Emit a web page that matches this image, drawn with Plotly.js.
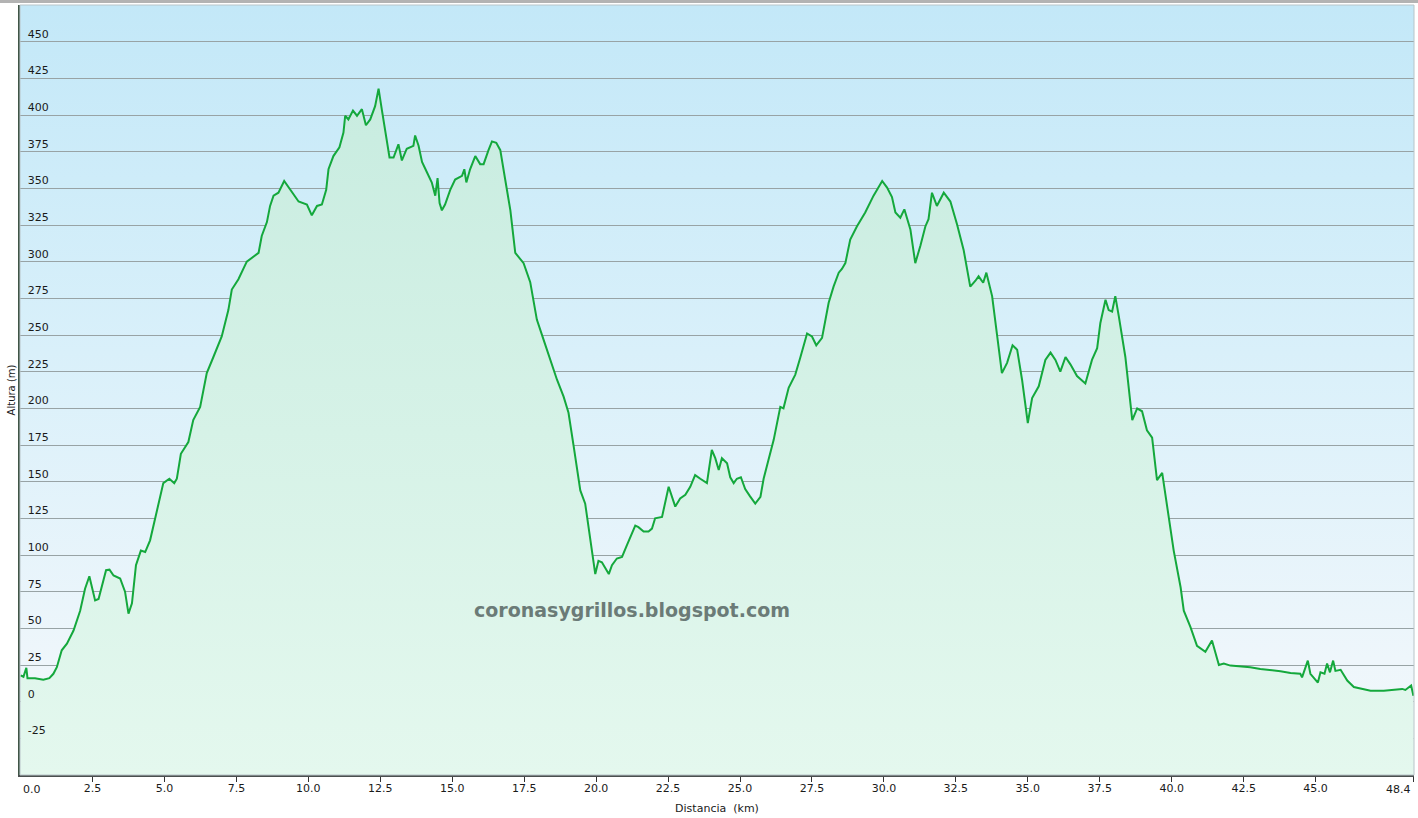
<!DOCTYPE html>
<html>
<head>
<meta charset="utf-8">
<script src="https://cdn.plot.ly/plotly-3.0.1.min.js"></script>
<style>
  html, body { margin: 0; padding: 0; background: #ffffff; }
  #wrap { position: relative; width: 1418px; height: 818px; }
  #chart { position: absolute; left: 0; top: 0; width: 1418px; height: 818px; }
  #topbar { position: absolute; left: 0; top: 0; width: 1418px; height: 3px; background: #b3b3b3; z-index: 5; }
</style>
</head>
<body>
<div id="wrap">
  <div id="chart"></div>
  <div id="topbar"></div>
</div>
<script>
// ---- data ----
const distanceKm = [
  0.00, 0.10, 0.20, 0.24, 0.33, 0.50, 0.79, 1.00, 1.14, 1.26, 1.43, 1.61, 1.84, 2.07, 2.24, 2.30, 2.39, 2.59, 2.71, 2.97,
  3.09, 3.23, 3.46, 3.63, 3.75, 3.87, 4.01, 4.18, 4.33, 4.50, 4.68, 4.79, 4.96, 5.17, 5.34, 5.43, 5.57, 5.83, 6.00, 6.24,
  6.47, 6.70, 6.99, 7.22, 7.34, 7.57, 7.86, 8.27, 8.38, 8.56, 8.67, 8.79, 8.96, 9.16, 9.37, 9.66, 9.95, 10.12, 10.30, 10.47,
  10.62, 10.70, 10.87, 11.08, 11.22, 11.28, 11.39, 11.55, 11.69, 11.86, 12.00, 12.15, 12.32, 12.44, 12.55, 12.67, 12.82, 12.96, 13.13, 13.25,
  13.42, 13.65, 13.71, 13.83, 13.95, 14.12, 14.29, 14.41, 14.49, 14.56, 14.64, 14.75, 14.93, 15.10, 15.34, 15.42, 15.49, 15.62, 15.80, 15.97,
  16.09, 16.26, 16.38, 16.53, 16.67, 16.84, 17.02, 17.19, 17.48, 17.71, 17.94, 18.17, 18.40, 18.64, 18.87, 19.04, 19.22, 19.45, 19.62, 19.80,
  19.97, 20.08, 20.20, 20.44, 20.55, 20.72, 20.90, 21.07, 21.36, 21.47, 21.65, 21.82, 21.94, 22.05, 22.29, 22.52, 22.75, 22.92, 23.10, 23.27,
  23.44, 23.62, 23.85, 24.02, 24.14, 24.26, 24.37, 24.55, 24.66, 24.78, 24.89, 25.03, 25.18, 25.35, 25.53, 25.71, 25.82, 25.99, 26.17, 26.40,
  26.51, 26.69, 26.92, 27.10, 27.33, 27.50, 27.65, 27.85, 28.08, 28.25, 28.43, 28.54, 28.66, 28.83, 29.06, 29.35, 29.64, 29.94, 30.11, 30.28,
  30.40, 30.57, 30.71, 30.92, 31.09, 31.27, 31.44, 31.55, 31.67, 31.84, 32.08, 32.31, 32.54, 32.77, 33.00, 33.18, 33.29, 33.45, 33.56, 33.76,
  33.93, 34.10, 34.28, 34.47, 34.63, 34.80, 35.00, 35.15, 35.38, 35.61, 35.79, 35.96, 36.13, 36.31, 36.48, 36.71, 37.00, 37.23, 37.41, 37.52,
  37.70, 37.81, 37.93, 38.04, 38.16, 38.39, 38.63, 38.80, 38.97, 39.14, 39.32, 39.49, 39.67, 39.78, 39.90, 40.07, 40.31, 40.42, 40.65, 40.88,
  41.17, 41.40, 41.64, 41.81, 42.04, 42.50, 42.73, 43.08, 43.43, 43.78, 44.13, 44.47, 44.53, 44.73, 44.82, 45.08, 45.17, 45.31, 45.40, 45.50,
  45.61, 45.69, 45.87, 46.10, 46.33, 46.68, 46.91, 47.37, 47.72, 48.01, 48.12, 48.32, 48.40
];
const altitudeM = [
  18, 17, 23, 16, 16, 16, 15, 16, 19, 23.5, 35, 39.5, 48.5, 62, 77, 81, 85.5, 69, 70, 89.6,
  90, 86, 84, 75, 60, 67, 93, 103, 102, 110, 126, 135, 149, 152, 149, 152, 169, 177, 192, 201,
  224, 235, 249, 267, 281, 288, 300, 306, 317.5, 327, 338, 345, 347, 355, 349, 341, 339, 331.6, 338, 339,
  349, 363, 372, 378, 388, 399.5, 397, 403, 399.5, 404, 393, 397, 406, 418, 404, 388, 371, 371, 380, 369,
  377, 379, 386, 379, 368, 361, 354, 345, 357, 340, 335, 339, 349, 356, 358.5, 363, 354, 363, 372, 366.5,
  366.5, 376, 382, 381, 376, 356, 335, 306, 299, 286, 260.5, 247, 233, 219.5, 208, 197, 174, 144, 135, 112,
  87, 96, 95, 87, 93, 97.6, 98.7, 106.7, 120, 119, 116, 116, 118, 125, 126, 146.5, 133, 138.6, 141, 146.5,
  154.5, 152, 149, 171.6, 166, 158, 166, 162.5, 153, 149, 152, 153, 145, 140, 135, 139.7, 152, 165, 178.5, 201,
  200, 214, 223, 235, 251, 249, 243, 248, 272, 283, 292.5, 295, 299, 315, 324, 333.5, 345, 355, 350.5, 344,
  333.5, 330, 335.7, 322, 299, 311, 324, 329, 347, 338, 347, 341, 325.5, 308, 283, 287, 290, 285.6, 292.5, 276.5,
  251, 224, 231, 243, 240, 219.5, 190, 207, 215, 233, 238, 233, 225, 235, 230, 222, 217, 233, 241, 258,
  274, 267, 266, 276.5, 263, 235, 192, 200, 198, 185, 180, 151, 156, 142, 126, 103, 78, 62, 51, 38,
  34, 41.7, 25, 26, 24.6, 24, 23.5, 22.3, 21.7, 20.7, 19.6, 19, 16.6, 28, 19, 13, 20, 19, 26, 20,
  28, 21, 21.7, 14.4, 10, 8.2, 7.5, 7.5, 8.2, 8.7, 8, 11, 4
];
const xTickVals = [0, 2.5, 5, 7.5, 10, 12.5, 15, 17.5, 20, 22.5, 25, 27.5, 30, 32.5, 35, 37.5, 40, 42.5, 45, 48.4];
const xTickText = ["0.0", "2.5", "5.0", "7.5", "10.0", "12.5", "15.0", "17.5", "20.0", "22.5", "25.0", "27.5", "30.0", "32.5", "35.0", "37.5", "40.0", "42.5", "45.0", "48.4"];
const yTickVals = [-25, 0, 25, 50, 75, 100, 125, 150, 175, 200, 225, 250, 275, 300, 325, 350, 375, 400, 425, 450];
const yTickText = ["-25", "0", "25", "50", "75", "100", "125", "150", "175", "200", "225", "250", "275", "300", "325", "350", "375", "400", "425", "450"];
const xMin = -0.02, xMax = 48.42, yMin = -50, yMax = 475;
const watermarkText = "coronasygrillos.blogspot.com";

// end labels are anchored to the edges (left-/right-aligned) like the reference
const lastIdx = xTickVals.length - 1;
const axisTickText = xTickText.map((t, i) => (i === 0 || i === lastIdx) ? '' : t);

// ---- background gradient as an inline SVG image ----
const bgSvg = '<svg xmlns="http://www.w3.org/2000/svg" width="100" height="100" preserveAspectRatio="none">' +
  '<defs><linearGradient id="g" x1="0" y1="0" x2="0" y2="1">' +
  '<stop offset="0" stop-color="#c3e8f8"/>' +
  '<stop offset="0.45" stop-color="#d9f0fa"/>' +
  '<stop offset="0.85" stop-color="#eef6fb"/>' +
  '<stop offset="1" stop-color="#f0f8fa"/>' +
  '</linearGradient></defs><rect width="100" height="100" fill="url(#g)"/></svg>';
const bgUri = 'data:image/svg+xml;base64,' + btoa(bgSvg);

const baseline = {
  x: [xMin, xMax], y: [yMin, yMin],
  mode: 'lines', line: { width: 0, color: 'rgba(0,0,0,0)' },
  hoverinfo: 'skip', showlegend: false
};
const profile = {
  x: distanceKm, y: altitudeM,
  mode: 'lines', fill: 'tonexty',
  line: { color: '#14a83c', width: 2 },
  fillcolor: 'rgba(205,238,225,0.8)',
  fillgradient: { type: 'vertical', colorscale: [[0, 'rgba(228,248,238,1)'], [1, 'rgba(200,236,224,1)']] },
  showlegend: false
};

const tickFont = { family: 'DejaVu Sans, Verdana, sans-serif', size: 11, color: '#1a1a1a' };

const layout = {
  width: 1418, height: 818,
  margin: { l: 20, r: 4, t: 5, b: 43, pad: 0 },
  paper_bgcolor: 'rgba(0,0,0,0)',
  plot_bgcolor: 'rgba(0,0,0,0)',
  font: { family: 'DejaVu Sans, Verdana, sans-serif', size: 11, color: '#1a1a1a' },
  showlegend: false,
  images: [{
    source: bgUri, xref: 'paper', yref: 'paper', x: 0, y: 1, sizex: 1, sizey: 1,
    sizing: 'stretch', xanchor: 'left', yanchor: 'top', layer: 'below'
  }],
  xaxis: {
    range: [xMin, xMax], tickmode: 'array', tickvals: xTickVals, ticktext: axisTickText,
    ticks: 'outside', ticklen: 5, tickwidth: 1, tickcolor: '#333',
    ticklabelstandoff: -3,
    showgrid: false, zeroline: false,
    showline: true, linecolor: '#4a4f4f', linewidth: 2,
    tickfont: tickFont,
    title: { text: 'Distancia \u00a0(km)', font: { size: 11, color: '#1a1a1a' }, standoff: 10 },
    automargin: false, fixedrange: true
  },
  yaxis: {
    range: [yMin, yMax], tickmode: 'array', tickvals: yTickVals, ticktext: yTickText,
    ticks: '', ticklabelposition: 'inside top', ticklabelstandoff: 6,
    showgrid: true, gridcolor: '#98a3a5', gridwidth: 1,
    zeroline: false,
    showline: true, linecolor: '#3f5546', linewidth: 2,
    tickfont: tickFont,
    title: { text: 'Altura (m)', font: { size: 10, color: '#1a1a1a' }, standoff: 10 },
    automargin: false, fixedrange: true
  },
  shapes: [{
    type: 'rect', xref: 'paper', yref: 'paper', x0: 0, x1: 1, y0: 0, y1: 1,
    line: { color: '#b8c4c8', width: 1 }, fillcolor: 'rgba(0,0,0,0)', layer: 'above'
  }],
  annotations: [
    {
      text: watermarkText, xref: 'paper', yref: 'paper', x: 0.439, y: 0.214,
      showarrow: false, xanchor: 'center', yanchor: 'middle',
      font: { family: 'DejaVu Sans, Verdana, sans-serif', size: 19, color: '#6b7b77', weight: 'bold' }
    },
    {
      text: xTickText[0], xref: 'x', yref: 'paper', x: xTickVals[0], y: 0,
      showarrow: false, xanchor: 'left', yanchor: 'top', yshift: -6, font: tickFont
    },
    {
      text: xTickText[lastIdx], xref: 'x', yref: 'paper', x: xTickVals[lastIdx], y: 0,
      showarrow: false, xanchor: 'right', yanchor: 'top', yshift: -6, font: tickFont
    }
  ]
};

Plotly.newPlot('chart', [baseline, profile], layout, { staticPlot: true, displayModeBar: false });
</script>
</body>
</html>
